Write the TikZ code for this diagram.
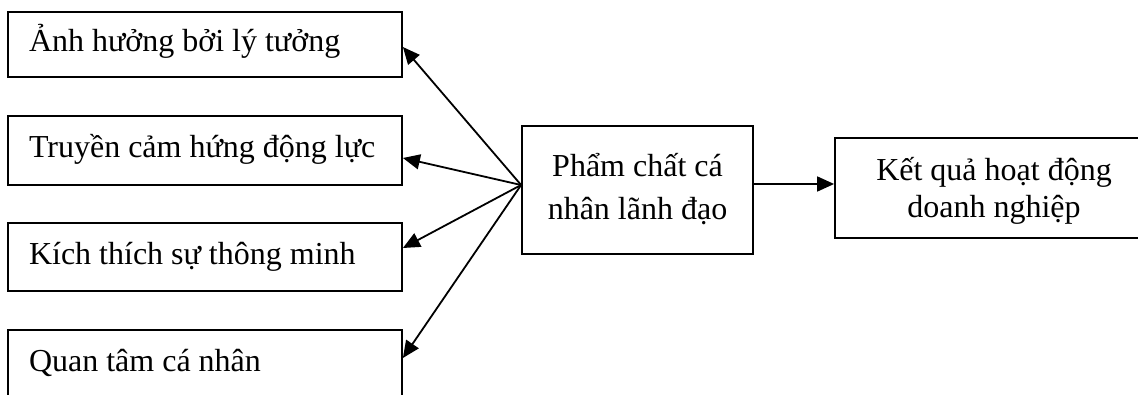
\documentclass[tikz,border=0pt]{standalone}
\usepackage{fontspec}
\setmainfont{Liberation Serif}
\usetikzlibrary{arrows.meta,calc}
\newcommand{\factortext}[1]{\makebox[352pt][l]{#1}}
\begin{document}
\begin{tikzpicture}[x=1pt,y=-1pt,
  box/.style={draw=black,line width=1.8pt,inner sep=0pt,
    font=\fontsize{32}{43}\selectfont},
  factor/.style={box,minimum width=394pt,inner xsep=21pt,
    text height=23pt,text depth=8pt},
  link/.style={line width=1.8pt,-{Triangle[length=17pt,width=15pt]}}]
\useasboundingbox (0,0) rectangle (1138,395);

% four dimensions on the left
\node[factor,minimum height=65pt] (b1) at (205,44.5) {\factortext{Ảnh hưởng bởi lý tưởng}};
\node[factor,minimum height=69pt] (b2) at (205,150.5) {\factortext{Truyền cảm hứng động lực}};
\node[factor,minimum height=68pt] (b3) at (205,257) {\factortext{Kích thích sự thông minh}};
\node[factor,minimum height=67pt] (b4) at (205,363.5) {\factortext{Quan tâm cá nhân}};

% leader qualities and outcome
\node[box,minimum width=231pt,minimum height=128pt,align=center,
  text height=68pt,text depth=8pt] (mid) at (637.5,190)
  {Phẩm chất cá\\nhân lãnh đạo};
\node[box,minimum width=318pt,minimum height=100pt,align=center,
  text height=68pt,text depth=8pt,font=\fontsize{32}{37}\selectfont] (res) at (994,188)
  {Kết quả hoạt động\\doanh nghiệp};

% fan of arrows from the leader box
\coordinate (src) at ([yshift=5pt]mid.west);
\draw[link] (src) -- ([yshift=-2.5pt]b1.east);
\draw[link] (src) -- ([yshift=-7.5pt]b2.east);
\draw[link] (src) -- ([yshift=9pt]b3.east);
\draw[link] (src) -- ([yshift=5.5pt]b4.east);
\draw[link] ([yshift=6pt]mid.east) -- ([yshift=6pt]mid.east -| res.west);
\end{tikzpicture}
\end{document}
